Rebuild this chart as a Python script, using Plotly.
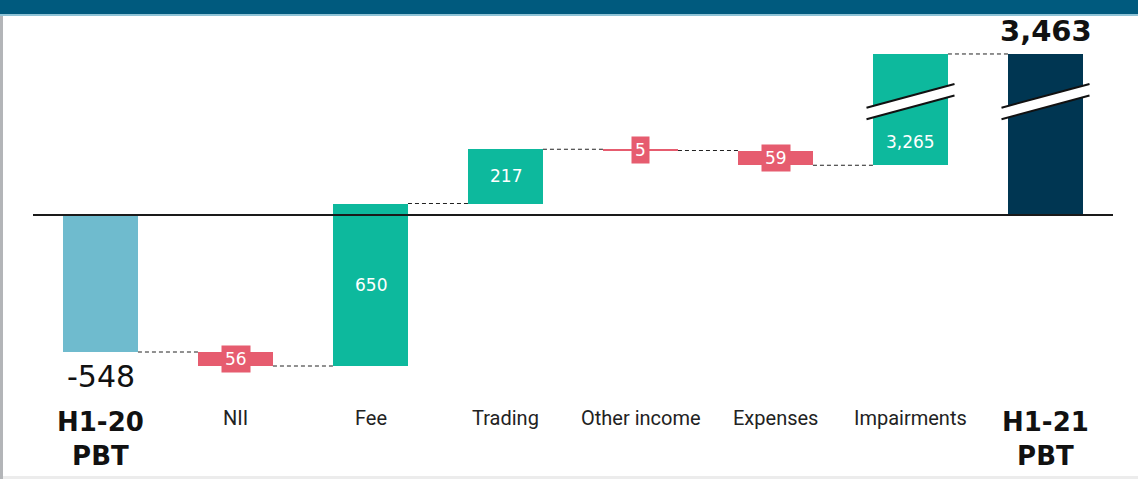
import plotly.graph_objects as go

# ---- data ----
categories = ["H1-20<br>PBT", "NII", "Fee", "Trading", "Other income", "Expenses", "Impairments", "H1-21<br>PBT"]
start_value = -548
changes = [-56, 650, 217, -5, -59, 3265]
end_value = 3463
value_labels = ["-548", "56", "650", "217", "5", "59", "3,265", "3,463"]

C_START = "#6fbbce"
C_UP = "#0db99d"
C_DOWN = "#e65c6f"
C_END = "#003652"

# broken axis mapping (display compression above threshold)
T = 400.0
K = (644.0 - T) / (end_value - T)


def disp(v):
    return v if v <= T else T + (v - T) * K


# ---- waterfall geometry from data ----
bases, tops, colors = [], [], []
bases.append(0); tops.append(start_value); colors.append(C_START)
cum = start_value
for c in changes:
    bases.append(cum)
    cum += c
    tops.append(cum)
    colors.append(C_UP if c > 0 else C_DOWN)
bases.append(0); tops.append(end_value); colors.append(C_END)

d_base = [disp(b) for b in bases]
d_top = [disp(t) for t in tops]
d_h = [t - b for b, t in zip(d_base, d_top)]
idx = list(range(len(categories)))
W = 0.555

fig = go.Figure()
fig.add_trace(go.Bar(x=idx, y=d_h, base=d_base, marker=dict(color=colors, line=dict(width=0)),
                     width=W, hoverinfo="skip", showlegend=False))

shapes = []
# connectors
for i in range(len(categories) - 1):
    lvl = d_top[i]
    shapes.append(dict(type="line", xref="x", yref="y", x0=i + W / 2, x1=i + 1 - W / 2,
                       y0=lvl, y1=lvl, line=dict(color="#222", width=1, dash="4px,3px"), layer="below"))
# zero line
shapes.append(dict(type="line", xref="paper", yref="y", x0=0, x1=1, y0=0, y1=0,
                   line=dict(color="#1a1a1a", width=2), layer="above"))
# break marks on the two tall bars
LO_L, LO_R, UP_L, UP_R = 383, 478, 429, 524
for i in [6, 7]:
    xl, xr = i - 0.326, i + 0.326
    shapes.append(dict(type="path", xref="x", yref="y",
                       path=f"M {xl},{LO_L} L {xr},{LO_R} L {xr},{UP_R} L {xl},{UP_L} Z",
                       fillcolor="white", line=dict(width=0), layer="above"))
    shapes.append(dict(type="line", xref="x", yref="y", x0=xl, x1=xr, y0=LO_L, y1=LO_R,
                       line=dict(color="#111", width=2), layer="above"))
    shapes.append(dict(type="line", xref="x", yref="y", x0=xl, x1=xr, y0=UP_L, y1=UP_R,
                       line=dict(color="#111", width=2), layer="above"))

# decorative frame (pixel -> paper)
L, R, TOPM, B = 33, 25, 20, 79
PW, PH = 1138 - L - R, 479 - TOPM - B


def px_x(p):
    return (p - L) / PW


def px_y(p):
    return (479 - B - p) / PH


shapes.append(dict(type="rect", xref="paper", yref="paper", x0=px_x(0), x1=px_x(1138),
                   y0=px_y(14), y1=px_y(0), fillcolor="#005a7e", line=dict(width=0)))
shapes.append(dict(type="rect", xref="paper", yref="paper", x0=px_x(0), x1=px_x(1138),
                   y0=px_y(16), y1=px_y(14), fillcolor="#8fc3d6", line=dict(width=0)))
shapes.append(dict(type="rect", xref="paper", yref="paper", x0=px_x(0), x1=px_x(3),
                   y0=px_y(479), y1=px_y(16), fillcolor="#b3b5b8", line=dict(width=0)))
shapes.append(dict(type="rect", xref="paper", yref="paper", x0=px_x(3), x1=px_x(1138),
                   y0=px_y(479), y1=px_y(476), fillcolor="#ececec", line=dict(width=0)))

NUMFONT = "DejaVu Sans"
CATFONT = "Roboto"
ann = []
# start / end totals
ann.append(dict(x=0, y=d_top[0], xref="x", yref="y", text=value_labels[0], showarrow=False,
                yanchor="middle", yshift=-24, font=dict(family=NUMFONT, size=30, color="#111")))
ann.append(dict(x=7, y=d_top[7], xref="x", yref="y", text="<b>" + value_labels[7] + "</b>", showarrow=False,
                yanchor="middle", yshift=23, font=dict(family=NUMFONT, size=29, color="#111")))
# inside labels for increases / decreases
for i in range(1, 7):
    c = changes[i - 1]
    if c > 0:
        if i == 6:
            y = (d_base[i] + LO_L) / 2
        else:
            y = (d_base[i] + d_top[i]) / 2
        ann.append(dict(x=i, y=y, xref="x", yref="y", text=value_labels[i], showarrow=False,
                        font=dict(family=NUMFONT, size=17, color="white")))
    else:
        y = (d_base[i] + d_top[i]) / 2
        ann.append(dict(x=i, y=y, xref="x", yref="y", text=value_labels[i], showarrow=False,
                        bgcolor=C_DOWN, borderpad=3,
                        font=dict(family=NUMFONT, size=17, color="white")))
# category labels
for i, cat in enumerate(categories):
    if "<br>" in cat:
        ann.append(dict(x=i, y=px_y(439), xref="x", yref="paper", text="<b>" + cat + "</b>",
                        showarrow=False, yanchor="middle",
                        font=dict(family=NUMFONT, size=26, color="#111")))
    else:
        ann.append(dict(x=i, y=px_y(418), xref="x", yref="paper", text=cat,
                        showarrow=False, yanchor="middle",
                        font=dict(family=CATFONT, size=20, color="#222")))

fig.update_layout(
    width=1138, height=479,
    margin=dict(l=L, r=R, t=TOPM, b=B),
    paper_bgcolor="white", plot_bgcolor="white",
    xaxis=dict(range=[-0.5, 7.5], visible=False, fixedrange=True),
    yaxis=dict(range=[-740, 780], visible=False, fixedrange=True),
    shapes=shapes, annotations=ann, bargap=0, showlegend=False,
)

fig.write_html("out.html", config={"displayModeBar": False},
               post_script="document.body.style.margin='0';document.body.style.padding='0';")
